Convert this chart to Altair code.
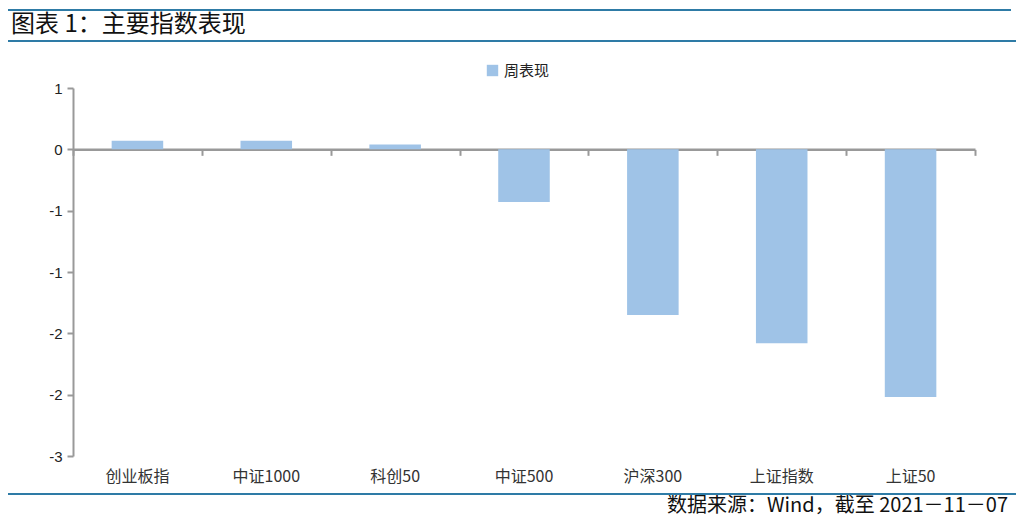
import altair as alt
import pandas as pd

categories = ["创业板指", "中证1000", "科创50", "中证500", "沪深300", "上证指数", "上证50"]
weekly = [0.07, 0.07, 0.04, -0.43, -1.35, -1.58, -2.02]
series_name = "周表现"
title_text = "图表 1：主要指数表现"
source_text = "数据来源：Wind，截至 2021－11－07"
y_ticks = [0.5, 0.0, -0.5, -1.0, -1.5, -2.0, -2.5]

W, H = 902, 368
PAD = {"left": 65, "top": 80, "right": 41, "bottom": 62}

df = pd.DataFrame({"指数": categories, "值": weekly, "系列": [series_name] * len(categories)})

x_scale = alt.Scale(paddingInner=0, paddingOuter=0)

x_enc_labels = alt.X(
    "指数:N", sort=categories, title=None, scale=x_scale,
    axis=alt.Axis(orient="bottom", domain=False, ticks=False, labelAngle=0,
                  labelFont="Noto Sans CJK SC", labelFontSize=16, labelColor="#333333",
                  labelPadding=12, grid=False),
)

y_enc = alt.Y(
    "值:Q", title=None,
    scale=alt.Scale(domain=[-2.5, 0.5], nice=False, zero=False),
    axis=alt.Axis(values=y_ticks, grid=False, domainColor="#999999", domainWidth=2,
                  tickColor="#999999", tickWidth=2, tickSize=6,
                  labelFont="Liberation Sans", labelFontSize=15, labelColor="#222222",
                  labelPadding=5,
                  labelExpr="datum.value < 0 ? '-' + format(round(abs(datum.value)), 'd') : format(round(datum.value), 'd')"),
)

bars = alt.Chart(df).mark_bar(color="#9FC3E7", width=alt.RelativeBandSize(0.4)).encode(
    x=x_enc_labels,
    y=y_enc,
    color=alt.Color("系列:N", scale=alt.Scale(range=["#9FC3E7"]),
                    legend=alt.Legend(title=None, orient="none", legendX=412, legendY=-25,
                                      symbolType="square", symbolSize=130,
                                      symbolStrokeWidth=0,
                                      labelFont="Noto Sans CJK SC", labelFontSize=15,
                                      labelColor="#222222")),
)

zero_axis = alt.Chart(df).mark_bar(opacity=0).encode(
    x=alt.X("指数:N", sort=categories, title=None, scale=x_scale,
            axis=alt.Axis(orient="bottom", offset=-(H - H / 6.0), labels=False,
                          domainColor="#999999", domainWidth=2.5,
                          tickColor="#999999", tickWidth=2, tickSize=6,
                          tickBand="extent", grid=False)),
    y=alt.Y("值:Q"),
)

deco = pd.DataFrame({"t": [title_text]})
title_mark = alt.Chart(deco).mark_text(
    align="left", baseline="middle", font="Noto Sans CJK SC", fontSize=24, color="#111111"
).encode(x=alt.value(-62), y=alt.value(-63), text="t:N")

src = pd.DataFrame({"t": [source_text]})
source_mark = alt.Chart(src).mark_text(
    align="right", baseline="middle", font="Noto Sans CJK SC", fontSize=20, color="#111111"
).encode(x=alt.value(935), y=alt.value(418), text="t:N")

line_df = pd.DataFrame({"k": [1]})
line_top = alt.Chart(line_df).mark_rule(color="#2E7BA6", strokeWidth=2).encode(
    x=alt.value(-73), x2=alt.value(938), y=alt.value(-78))
line_mid = alt.Chart(line_df).mark_rule(color="#2E7BA6", strokeWidth=2).encode(
    x=alt.value(-73), x2=alt.value(943), y=alt.value(-47))
line_bot = alt.Chart(line_df).mark_rule(color="#2E7BA6", strokeWidth=2).encode(
    x=alt.value(-73), x2=alt.value(943), y=alt.value(406))

chart = alt.layer(
    zero_axis, bars, title_mark, source_mark, line_top, line_mid, line_bot
).resolve_axis(x="independent").properties(
    width=W, height=H, autosize=alt.AutoSizeParams(type="none"), padding=PAD,
).configure(background="white").configure_view(strokeWidth=0)

chart.save("out.html", embed_options={"renderer": "svg", "actions": False})
